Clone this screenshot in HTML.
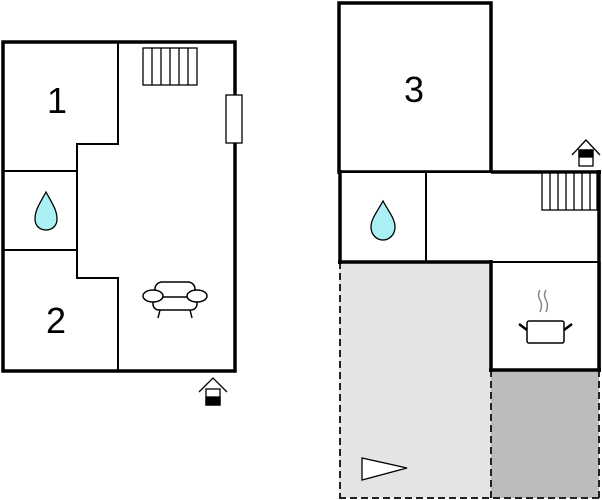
<!DOCTYPE html>
<html><head><meta charset="utf-8"><style>html,body{margin:0;padding:0;background:#fff;}svg{display:block}</style></head>
<body>
<svg width="602" height="500" viewBox="0 0 602 500" xmlns="http://www.w3.org/2000/svg">
<!-- LEFT PLAN -->
<rect x="3" y="42" width="232" height="329" fill="#fff" stroke="#000" stroke-width="3.5"/>
<polyline points="118,42 118,144 77,144 77,278 118,278 118,371" fill="none" stroke="#000" stroke-width="2"/>
<line x1="3" y1="171" x2="77" y2="171" stroke="#000" stroke-width="2"/>
<line x1="3" y1="250" x2="77" y2="250" stroke="#000" stroke-width="2"/>
<rect x="143" y="48" width="54" height="37" fill="#fff" stroke="#000" stroke-width="1.3"/>
<g stroke="#000" stroke-width="1.3">
<line x1="152" y1="48" x2="152" y2="85"/><line x1="161" y1="48" x2="161" y2="85"/><line x1="170" y1="48" x2="170" y2="85"/><line x1="179" y1="48" x2="179" y2="85"/><line x1="188" y1="48" x2="188" y2="85"/>
</g>
<rect x="226" y="95" width="16" height="48" fill="#fff" stroke="#000" stroke-width="1.3"/>
<path d="M46,192 C40,203 35,210 35,219 C35,226 40,230 46,230 C52,230 57,226 57,219 C57,210 52,203 46,192 Z" fill="#aaf0f5" stroke="#000" stroke-width="1.3"/>
<text x="57" y="113" font-family="Liberation Sans, sans-serif" font-size="36" text-anchor="middle">1</text>
<text x="56" y="333" font-family="Liberation Sans, sans-serif" font-size="36" text-anchor="middle">2</text>
<g fill="#fff" stroke="#000" stroke-width="1.5">
<rect x="155" y="282" width="40" height="22" rx="7"/>
<rect x="153" y="297" width="44" height="13" rx="6"/>
<ellipse cx="153" cy="296" rx="10" ry="6"/>
<ellipse cx="197" cy="296" rx="10" ry="6"/>
<line x1="160" y1="310" x2="158" y2="318"/><line x1="190" y1="310" x2="192" y2="318"/>
</g>
<g stroke="#000" stroke-width="1.3" fill="none">
<polyline points="199,392 213,378 227,392"/>
<rect x="206" y="389" width="14" height="16" fill="#fff"/>
<rect x="206" y="397" width="14" height="8" fill="#000"/>
</g>

<!-- RIGHT PLAN -->
<rect x="339" y="262" width="152" height="236" fill="#e4e4e4"/>
<rect x="491" y="370" width="108" height="128" fill="#bcbcbc"/>
<g stroke="#222" stroke-width="2" stroke-dasharray="7,4" fill="none">
<line x1="340" y1="262" x2="340" y2="498"/>
<line x1="339" y1="498" x2="599" y2="498"/>
<line x1="491" y1="370" x2="491" y2="498"/>
<line x1="599" y1="370" x2="599" y2="498"/>
</g>
<polygon points="362,458 407,468 362,480" fill="#fff" stroke="#000" stroke-width="1.3"/>
<rect x="339" y="3" width="152" height="169" fill="#fff" stroke="#000" stroke-width="3.5"/>
<text x="414" y="102" font-family="Liberation Sans, sans-serif" font-size="36" text-anchor="middle">3</text>
<rect x="339" y="172" width="260" height="90" fill="#fff" stroke="none"/>
<line x1="339" y1="172" x2="491" y2="172" stroke="#000" stroke-width="2"/>
<line x1="491" y1="172" x2="601" y2="172" stroke="#000" stroke-width="3.5"/>
<line x1="340" y1="170" x2="340" y2="264" stroke="#000" stroke-width="3.5"/>
<line x1="599" y1="170" x2="599" y2="372" stroke="#000" stroke-width="3.5"/>
<line x1="426" y1="172" x2="426" y2="262" stroke="#000" stroke-width="2"/>
<line x1="338" y1="262" x2="491" y2="262" stroke="#000" stroke-width="3.5"/>
<line x1="491" y1="262" x2="599" y2="262" stroke="#000" stroke-width="2"/>
<rect x="491" y="262" width="108" height="108" fill="#fff"/>
<line x1="491" y1="260" x2="491" y2="372" stroke="#000" stroke-width="3.5"/>
<line x1="489" y1="370" x2="601" y2="370" stroke="#000" stroke-width="3.5"/>
<line x1="491" y1="262" x2="599" y2="262" stroke="#000" stroke-width="2"/>
<line x1="599" y1="262" x2="599" y2="372" stroke="#000" stroke-width="3.5"/>
<rect x="542" y="173" width="55" height="37" fill="#fff" stroke="#000" stroke-width="1.3"/>
<g stroke="#000" stroke-width="1.3">
<line x1="550" y1="173" x2="550" y2="210"/><line x1="558" y1="173" x2="558" y2="210"/><line x1="566" y1="173" x2="566" y2="210"/><line x1="574" y1="173" x2="574" y2="210"/><line x1="582" y1="173" x2="582" y2="210"/><line x1="590" y1="173" x2="590" y2="210"/>
</g>
<path d="M383,201 C377,212 371,219 371,227 C371,235 377,240 383,240 C389,240 395,235 395,227 C395,219 389,212 383,201 Z" fill="#aaf0f5" stroke="#000" stroke-width="1.3"/>
<g stroke="#888" stroke-width="1.5" fill="none">
<path d="M540,290 q-3,5 0,10 q3,5 0,12"/>
<path d="M546,290 q-3,5 0,10 q3,5 0,12"/>
</g>
<rect x="527" y="321" width="37" height="22" rx="2" fill="#fff" stroke="#000" stroke-width="1.5"/>
<line x1="519" y1="324" x2="527" y2="330" stroke="#000" stroke-width="2.5"/>
<line x1="572" y1="324" x2="564" y2="330" stroke="#000" stroke-width="2.5"/>
<g stroke="#000" stroke-width="1.3" fill="none">
<polyline points="572,155 586,140 600,155"/>
<rect x="579" y="150" width="14" height="16" fill="#fff"/>
<rect x="579" y="150" width="14" height="7" fill="#000"/>
</g>
</svg>
</body></html>
